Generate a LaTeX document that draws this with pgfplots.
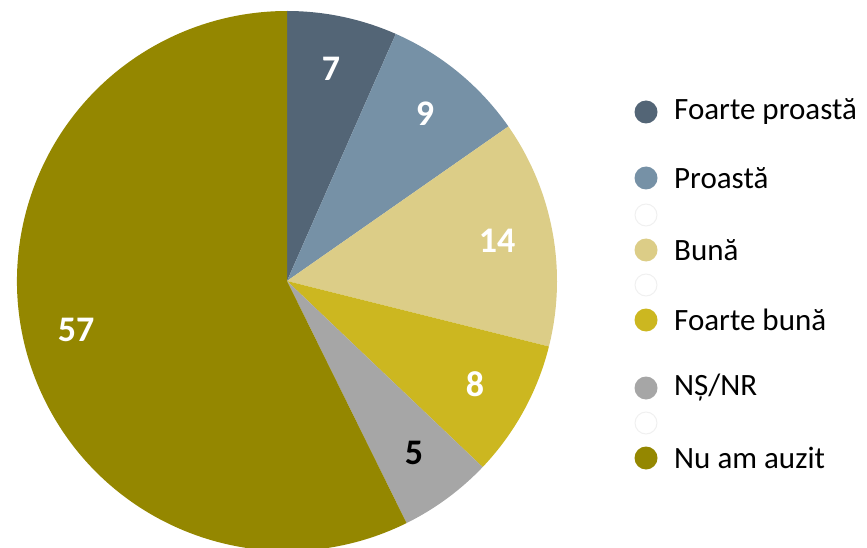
\documentclass[border=0pt]{standalone}
\usepackage{fontspec}
\setmainfont{Carlito}
\usepackage{pgfplots}
\pgfplotsset{compat=1.18}

\definecolor{cFP}{HTML}{536576}
\definecolor{cP}{HTML}{7691A6}
\definecolor{cB}{HTML}{DCCD87}
\definecolor{cFB}{HTML}{CCB720}
\definecolor{cNS}{HTML}{A6A6A6}
\definecolor{cNA}{HTML}{948700}
\definecolor{cghost}{HTML}{F0F0F0}

% slice: #1 share before it, #2 share, #3 colour (percent, clockwise from top)
\newcommand{\slice}[3]{%
  \fill[#3] (287,-281) -- ++({90-3.6*#1}:270pt)
    arc[start angle={90-3.6*#1}, delta angle={-3.6*#2}, radius=270pt] -- cycle;}
\newcommand{\legitem}[3]{%
  \fill[#2] (646,-#1) circle[radius=11.5pt];
  \node[anchor=west, font=\fontsize{31}{33}\selectfont, inner sep=0pt] at (674,-#1) {#3};}

\begin{document}
\begin{tikzpicture}
\begin{axis}[
  width=867pt, height=547pt, scale only axis,
  xmin=0, xmax=867, ymin=-547, ymax=0,
  hide axis, clip=true,
]
  % shares as drawn (labels show them rounded)
  \slice{0}{6.6}{cFP}
  \slice{6.6}{8.7}{cP}
  \slice{15.3}{13.6}{cB}
  \slice{28.9}{8.2}{cFB}
  \slice{37.1}{5.6}{cNS}
  \slice{42.7}{57.3}{cNA}

  \begin{scope}[font=\fontsize{36}{38}\selectfont\bfseries]
    \node[white] at (331,-69) {7};
    \node[white] at (425,-114) {9};
    \node[white] at (497,-241) {14};
    \node[white] at (475,-384) {8};
    \node[black] at (414,-453) {5};
    \node[white] at (76,-330) {57};
  \end{scope}

  \legitem{112}{cFP}{Foarte proastă}
  \legitem{178}{cP}{Proastă}
  \draw[cghost, fill=white, line width=1pt] (646,-215) circle[radius=11pt];
  \legitem{250}{cB}{Bună}
  \draw[cghost, fill=white, line width=1pt] (646,-285) circle[radius=11pt];
  \legitem{320}{cFB}{Foarte bună}
  \legitem{388}{cNS}{NȘ/NR}
  \draw[cghost, fill=white, line width=1pt] (646,-423) circle[radius=11pt];
  \legitem{458}{cNA}{Nu am auzit}
\end{axis}
\pgfresetboundingbox
\path (0,0) rectangle (867pt,547pt);
\end{tikzpicture}
\end{document}
